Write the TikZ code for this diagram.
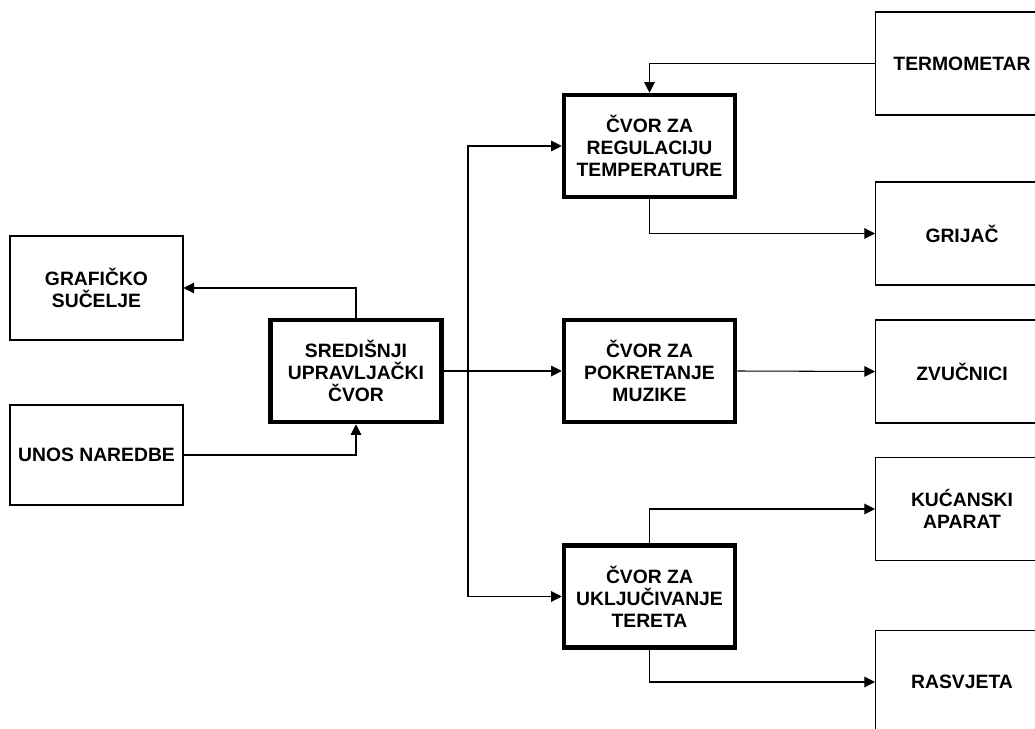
\documentclass[tikz,border=0pt]{standalone}
\usepackage{fontspec}
\setmainfont{Liberation Sans}
\usetikzlibrary{arrows.meta}

\begin{document}
\begin{tikzpicture}[x=0.02cm, y=-0.02cm,
    every node/.style={font=\fontsize{11}{12.5}\selectfont\bfseries, align=center},
    unit/.style={draw, line width=0.6pt, minimum width=3.46cm, minimum height=2.06cm, inner sep=0pt},
    hub/.style={draw, line width=2.6pt, minimum width=3.42cm, minimum height=2.04cm, inner sep=0pt},
    link/.style={line width=0.6pt, -{Triangle[length=6pt,width=6pt]}}]
                \clip (0,0) rectangle (1035,729);
                % left side
                \node[unit, minimum height=2.08cm] (graf) at (96.5,288) {GRAFIČKO\\SUČELJE};
                \node[unit, minimum height=2cm] (unos) at (96.5,455) {UNOS NAREDBE};
                \node[hub] (sred) at (356,371) {SREDIŠNJI\\UPRAVLJAČKI\\ČVOR};
                % control nodes
                \node[hub] (reg) at (649.5,146) {ČVOR ZA\\REGULACIJU\\TEMPERATURE};
                \node[hub] (muz) at (649.5,371) {ČVOR ZA\\POKRETANJE\\MUZIKE};
                \node[hub] (ter) at (649.5,596.5) {ČVOR ZA\\UKLJUČIVANJE\\TERETA};
                % devices
                \node[unit, anchor=west] (termo) at (875,63.5) {TERMOMETAR};
                \node[unit, anchor=west] (grij) at (875,233.5) {GRIJAČ};
                \node[unit, anchor=west] (zvuc) at (875,371.5) {ZVUČNICI};
                \node[unit, anchor=west] (kuc) at (875,509) {KUĆANSKI\\APARAT};
                \node[unit, anchor=west] (rasv) at (875,682) {RASVJETA};
                \coordinate (bus) at (468,371);
                % connections
                \draw[link] (sred.north) |- (graf.east);
                \draw[link] (unos.east) -| (sred.south);
                \draw[link] (sred.east) -- (muz.west);
                \draw[link] (bus) |- (reg.west);
                \draw[link] (bus) |- (ter.west);
                \draw[link] (termo.west) -| (reg.north);
                \draw[link] (reg.south) |- (grij.west);
                \draw[link] (muz.east) -- (zvuc.west);
                \draw[link] (ter.north) |- (kuc.west);
                \draw[link] (ter.south) |- (rasv.west);
            \end{tikzpicture}
\end{document}
